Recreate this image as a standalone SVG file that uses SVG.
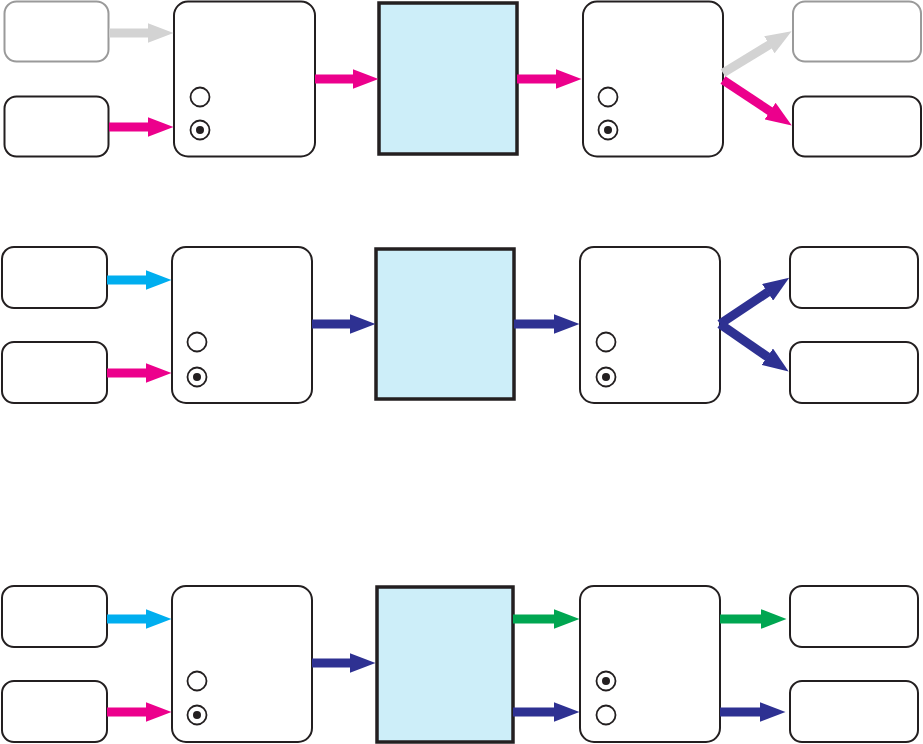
<svg xmlns="http://www.w3.org/2000/svg" width="923" height="744" viewBox="0 0 923 744">
<style>
.box{fill:#fff;stroke:#231f20;stroke-width:2}
.ghost{fill:#fff;stroke:#9a9a9a;stroke-width:2}
.node{fill:#fff;stroke:#231f20;stroke-width:2}
.core{fill:#cdeef9;stroke:#231f20;stroke-width:3.5}
.rad{fill:#fff;stroke:#231f20;stroke-width:1.8}
.dot{fill:#231f20}
.a{stroke-width:9;fill:none}
.gray{stroke:#d3d3d3}.pink{stroke:#ec008c}.cyan{stroke:#00aeef}.navy{stroke:#2e3192}.green{stroke:#00a651}
</style>
<defs>
<marker id="hg" markerUnits="userSpaceOnUse" markerWidth="27" markerHeight="20" refX="0.5" refY="10" orient="auto"><path d="M0,0 L26,10 L0,20 z" fill="#d3d3d3"/></marker>
<marker id="hp" markerUnits="userSpaceOnUse" markerWidth="27" markerHeight="20" refX="0.5" refY="10" orient="auto"><path d="M0,0 L26,10 L0,20 z" fill="#ec008c"/></marker>
<marker id="hc" markerUnits="userSpaceOnUse" markerWidth="27" markerHeight="20" refX="0.5" refY="10" orient="auto"><path d="M0,0 L26,10 L0,20 z" fill="#00aeef"/></marker>
<marker id="hn" markerUnits="userSpaceOnUse" markerWidth="27" markerHeight="20" refX="0.5" refY="10" orient="auto"><path d="M0,0 L26,10 L0,20 z" fill="#2e3192"/></marker>
<marker id="hgr" markerUnits="userSpaceOnUse" markerWidth="27" markerHeight="20" refX="0.5" refY="10" orient="auto"><path d="M0,0 L26,10 L0,20 z" fill="#00a651"/></marker>
</defs>

<!-- Row 1 -->
<g id="r1-in-top"><rect class="ghost" x="4.5" y="1.5" width="104" height="60" rx="12"/></g>
<g id="r1-in-bot"><rect class="box" x="4.5" y="96.5" width="104" height="60" rx="12"/></g>
<g id="r1-left"><rect class="node" x="174" y="1.5" width="141" height="155" rx="14"/>
<circle class="rad" cx="200" cy="97" r="9.5"/><circle class="rad" cx="200" cy="130" r="9.5"/><circle class="dot" cx="200" cy="130" r="4"/></g>
<g id="r1-core"><rect class="core" x="379" y="3" width="138" height="151"/></g>
<g id="r1-right"><rect class="node" x="583" y="1.5" width="140" height="155" rx="14"/>
<circle class="rad" cx="608" cy="97" r="9.5"/><circle class="rad" cx="608" cy="130" r="9.5"/><circle class="dot" cx="608" cy="130" r="4"/></g>
<g id="r1-out-top"><rect class="ghost" x="793" y="1.5" width="128" height="60" rx="12"/></g>
<g id="r1-out-bot"><rect class="box" x="793" y="96.5" width="128" height="60" rx="12"/></g>

<!-- Row 2 -->
<g id="r2-in-top"><rect class="box" x="2" y="247" width="105" height="61" rx="12"/></g>
<g id="r2-in-bot"><rect class="box" x="2" y="342" width="105" height="61" rx="12"/></g>
<g id="r2-left"><rect class="node" x="172" y="247" width="140" height="156" rx="14"/>
<circle class="rad" cx="197" cy="342" r="9.5"/><circle class="rad" cx="197" cy="377" r="9.5"/><circle class="dot" cx="197" cy="377" r="4"/></g>
<g id="r2-core"><rect class="core" x="376" y="249" width="138" height="150"/></g>
<g id="r2-right"><rect class="node" x="580" y="247" width="140" height="156" rx="14"/>
<circle class="rad" cx="606" cy="342" r="9.5"/><circle class="rad" cx="606" cy="377" r="9.5"/><circle class="dot" cx="606" cy="377" r="4"/></g>
<g id="r2-out-top"><rect class="box" x="790" y="247" width="128" height="61" rx="12"/></g>
<g id="r2-out-bot"><rect class="box" x="790" y="342" width="128" height="61" rx="12"/></g>

<!-- Row 3 -->
<g id="r3-in-top"><rect class="box" x="2" y="586" width="105" height="61" rx="12"/></g>
<g id="r3-in-bot"><rect class="box" x="2" y="681" width="105" height="61" rx="12"/></g>
<g id="r3-left"><rect class="node" x="172" y="586" width="140" height="156" rx="14"/>
<circle class="rad" cx="197" cy="681" r="9.5"/><circle class="rad" cx="197" cy="715" r="9.5"/><circle class="dot" cx="197" cy="715" r="4"/></g>
<g id="r3-core"><rect class="core" x="377" y="587" width="136" height="155"/></g>
<g id="r3-right"><rect class="node" x="580" y="586" width="140" height="156" rx="14"/>
<circle class="rad" cx="606" cy="681" r="9.5"/><circle class="dot" cx="606" cy="681" r="4"/><circle class="rad" cx="606" cy="715" r="9.5"/></g>
<g id="r3-out-top"><rect class="box" x="790" y="586" width="128" height="61" rx="12"/></g>
<g id="r3-out-bot"><rect class="box" x="790" y="681" width="128" height="61" rx="12"/></g>

<g id="connectors">
<line class="a gray" x1="109" y1="33" x2="148" y2="33" marker-end="url(#hg)"/>
<line class="a pink" x1="109" y1="127" x2="148" y2="127" marker-end="url(#hp)"/>
<line class="a pink" x1="315" y1="79" x2="353" y2="79" marker-end="url(#hp)"/>
<line class="a pink" x1="517" y1="79" x2="556" y2="79" marker-end="url(#hp)"/>
<line class="a gray" x1="723" y1="73" x2="769.8" y2="44.5" marker-end="url(#hg)"/>
<line class="a pink" x1="723" y1="80" x2="770.5" y2="111.4" marker-end="url(#hp)"/>

<line class="a cyan" x1="107" y1="280" x2="146" y2="280" marker-end="url(#hc)"/>
<line class="a pink" x1="107" y1="373" x2="146" y2="373" marker-end="url(#hp)"/>
<line class="a navy" x1="312" y1="324" x2="350" y2="324" marker-end="url(#hn)"/>
<line class="a navy" x1="514" y1="324" x2="554" y2="324" marker-end="url(#hn)"/>
<line class="a navy" x1="720" y1="324" x2="768" y2="292" marker-end="url(#hn)"/>
<line class="a navy" x1="720" y1="324" x2="767.7" y2="357" marker-end="url(#hn)"/>

<line class="a cyan" x1="107" y1="619" x2="146" y2="619" marker-end="url(#hc)"/>
<line class="a pink" x1="107" y1="712" x2="146" y2="712" marker-end="url(#hp)"/>
<line class="a navy" x1="312" y1="663" x2="350" y2="663" marker-end="url(#hn)"/>
<line class="a green" x1="513" y1="619" x2="554" y2="619" marker-end="url(#hgr)"/>
<line class="a navy" x1="513" y1="712" x2="554" y2="712" marker-end="url(#hn)"/>
<line class="a green" x1="720" y1="619" x2="761" y2="619" marker-end="url(#hgr)"/>
<line class="a navy" x1="720" y1="712" x2="760" y2="712" marker-end="url(#hn)"/>
</g>
</svg>
